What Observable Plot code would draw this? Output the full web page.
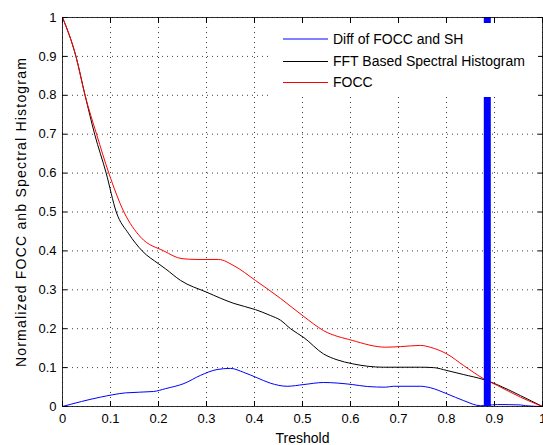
<!DOCTYPE html>
<html>
<head>
<meta charset="utf-8">
<script src="https://cdn.jsdelivr.net/npm/d3@7"></script>
<script src="https://cdn.jsdelivr.net/npm/@observablehq/plot@0.6"></script>
<style>
  html, body { margin: 0; padding: 0; background: #fff; }
  #wrap { position: relative; width: 543px; height: 445px; overflow: hidden; font-family: "Liberation Sans", Arial, sans-serif; }
  #legend { position: absolute; left: 272px; top: 23px; width: 266px; height: 74px; background: #fff; }
  #legend svg { display: block; }
</style>
</head>
<body>
<div id="wrap"></div>
<script>
// Tick values
const xTicks = [0, 0.1, 0.2, 0.3, 0.4, 0.5, 0.6, 0.7, 0.8, 0.9, 1];
const yTicks = [0, 0.1, 0.2, 0.3, 0.4, 0.5, 0.6, 0.7, 0.8, 0.9, 1];
const xTickLabels = ["0", "0.1", "0.2", "0.3", "0.4", "0.5", "0.6", "0.7", "0.8", "0.9", "1"];
const yTickLabels = ["0", "0.1", "0.2", "0.3", "0.4", "0.5", "0.6", "0.7", "0.8", "0.9", "1"];

// Axis titles
const xTitle = "Treshold";
const yTitle = "Normalized FOCC anb Spectral Histogram";

// Series names
const seriesNames = ["Diff of FOCC and SH", "FFT Based Spectral Histogram", "FOCC"];
const seriesColors = ["#0000ff", "#000000", "#ff0000"];

// Diff of FOCC and SH (blue)
const diffX = [0, 0.079, 0.131, 0.19, 0.215, 0.253, 0.2875, 0.322, 0.35, 0.377, 0.405, 0.433, 0.468, 0.503, 0.544, 0.6035, 0.635, 0.673, 0.69, 0.746, 0.767, 0.801, 0.836, 0.871, 0.885, 0.906, 0.954, 0.965, 1];
const diffY = [0, 0.024, 0.035, 0.0386, 0.046, 0.059, 0.08, 0.095, 0.098, 0.088, 0.074, 0.06, 0.052, 0.0565, 0.0617, 0.0565, 0.0514, 0.0497, 0.052, 0.052, 0.048, 0.0326, 0.015, 0.002, 0.003, 0.005, 0.004, 0.002, 0];

// FFT Based Spectral Histogram (black)
const fftX = [0, 0.028, 0.047, 0.067, 0.091, 0.112, 0.138, 0.166, 0.2, 0.2146, 0.246, 0.3, 0.357, 0.402, 0.433, 0.454, 0.475, 0.503, 0.544, 0.572, 0.6035, 0.669, 0.746, 0.773, 0.801, 0.836, 0.878, 0.906, 0.954, 1];
const fftY = [1, 0.9, 0.8, 0.7, 0.6, 0.5, 0.444, 0.4, 0.367, 0.354, 0.324, 0.294, 0.265, 0.249, 0.234, 0.222, 0.2, 0.177, 0.135, 0.12, 0.11, 0.101, 0.101, 0.1, 0.0925, 0.082, 0.069, 0.056, 0.028, 0];

// FOCC (red)
const foccX = [0, 0.028, 0.047, 0.071, 0.0965, 0.128, 0.163, 0.211, 0.249, 0.28, 0.325, 0.357, 0.402, 0.454, 0.503, 0.544, 0.6035, 0.673, 0.704, 0.746, 0.767, 0.801, 0.836, 0.878, 0.906, 0.954, 1];
const foccY = [1, 0.9, 0.8, 0.7, 0.6, 0.5, 0.435, 0.4, 0.38, 0.378, 0.378, 0.362, 0.324, 0.278, 0.231, 0.195, 0.17, 0.1525, 0.154, 0.157, 0.152, 0.135, 0.105, 0.071, 0.054, 0.024, 0];

// Thick vertical marker
const markerX = [0.885];

const toRows = (xs, ys) => xs.map((x, i) => ({x, y: ys[i]}));
const diffData = toRows(diffX, diffY);
const fftData = toRows(fftX, fftY);
const foccData = toRows(foccX, foccY);

const fmtX = d => xTickLabels[xTicks.indexOf(d)];
const fmtY = d => yTickLabels[yTicks.indexOf(d)];

const chart = Plot.plot({
  width: 543,
  height: 445,
  marginLeft: 62,
  marginRight: 1,
  marginTop: 17,
  marginBottom: 39,
  style: {fontSize: "13px", fontFamily: "'Liberation Sans', Arial, sans-serif", color: "#000", background: "#fff"},
  x: {domain: [0, 1]},
  y: {domain: [0, 1]},
  marks: [
    Plot.gridX({ticks: xTicks, stroke: "#000", strokeOpacity: 0.75, strokeDasharray: "1,4"}),
    Plot.gridY({ticks: yTicks, stroke: "#000", strokeOpacity: 0.75, strokeDasharray: "1,4"}),
    Plot.line(diffData, {x: "x", y: "y", stroke: seriesColors[0], strokeWidth: 1, curve: "monotone-x"}),
    Plot.line(fftData, {x: "x", y: "y", stroke: seriesColors[1], strokeWidth: 1, curve: "monotone-x"}),
    Plot.line(foccData, {x: "x", y: "y", stroke: seriesColors[2], strokeWidth: 1, curve: "monotone-x"}),
    Plot.ruleX(markerX, {x: d => d, stroke: seriesColors[0], strokeWidth: 7}),
    Plot.frame({stroke: "#000", strokeOpacity: 0.8}),
    Plot.axisX({anchor: "bottom", ticks: xTicks, tickSize: -5, tickFormat: () => "", label: null}),
    Plot.axisX({anchor: "top", ticks: xTicks, tickSize: -5, tickFormat: () => "", label: null}),
    Plot.axisY({anchor: "left", ticks: yTicks, tickSize: -5, tickFormat: () => "", label: null}),
    Plot.axisY({anchor: "right", ticks: yTicks, tickSize: -5, tickFormat: () => "", label: null}),
    Plot.axisX({anchor: "bottom", ticks: xTicks, tickSize: 0, tickPadding: 7, tickFormat: fmtX, label: null, fill: "#000"}),
    Plot.axisY({anchor: "left", ticks: yTicks, tickSize: 0, tickPadding: 6, tickFormat: fmtY, label: null, fill: "#000"}),
    Plot.text([xTitle], {frameAnchor: "bottom", dy: 32, fill: "#000", fontSize: 14, lineAnchor: "middle", textAnchor: "middle"}),
    Plot.text([yTitle], {frameAnchor: "left", dx: -41, rotate: -90, fill: "#000", fontSize: 14, lineAnchor: "middle", textAnchor: "middle"})
  ]
});

const wrap = document.getElementById("wrap");
wrap.appendChild(chart);

// Widen the rotated y title a little, as in the original rendering
d3.select(chart).selectAll("text").filter(function () { return this.textContent === yTitle; })
  .attr("letter-spacing", "1.2px");

// Legend
const legend = document.createElement("div");
legend.id = "legend";
const ns = "http://www.w3.org/2000/svg";
const lsvg = document.createElementNS(ns, "svg");
lsvg.setAttribute("width", 266);
lsvg.setAttribute("height", 74);
const rowY = [16, 38.5, 59.5];
seriesNames.forEach((name, i) => {
  const ln = document.createElementNS(ns, "line");
  ln.setAttribute("x1", 11); ln.setAttribute("x2", 56);
  ln.setAttribute("y1", rowY[i]); ln.setAttribute("y2", rowY[i]);
  ln.setAttribute("stroke", seriesColors[i]);
  ln.setAttribute("stroke-width", 1);
  lsvg.appendChild(ln);
  const tx = document.createElementNS(ns, "text");
  tx.setAttribute("x", 61);
  tx.setAttribute("y", rowY[i]);
  tx.setAttribute("dy", "0.35em");
  tx.setAttribute("font-size", "14px");
  tx.setAttribute("font-family", "'Liberation Sans', Arial, sans-serif");
  tx.setAttribute("fill", "#000");
  tx.textContent = name;
  lsvg.appendChild(tx);
});
legend.appendChild(lsvg);
wrap.appendChild(legend);
</script>
</body>
</html>
